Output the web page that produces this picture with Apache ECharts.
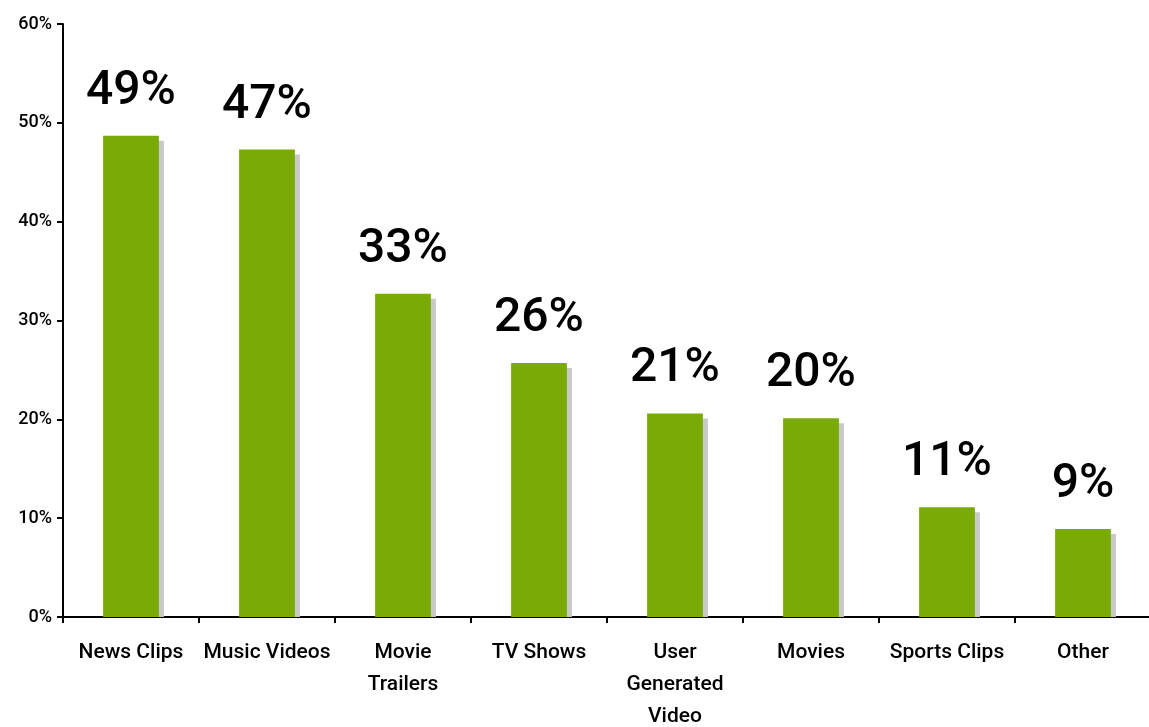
<!DOCTYPE html>
<html>
<head>
<meta charset="utf-8">
<script src="https://cdn.jsdelivr.net/npm/echarts@6/dist/echarts.min.js"></script>
<style>html,body{margin:0;padding:0;background:#fff}#c{width:1149px;height:727px}</style>
</head>
<body>
<div id="c"></div>
<script>
const categories = ['News Clips', 'Music Videos', 'Movie\nTrailers', 'TV Shows', 'User\nGenerated\nVideo', 'Movies', 'Sports Clips', 'Other'];
const values = [48.7, 47.3, 32.7, 25.7, 20.6, 20.1, 11.1, 8.9];
const valueLabels = ['49%', '47%', '33%', '26%', '21%', '20%', '11%', '9%'];
const yTicks = [0, 10, 20, 30, 40, 50, 60];

const FONT = 'Roboto, "Liberation Sans", sans-serif';
const BAR_RATIO = 0.41;
const chart = echarts.init(document.getElementById('c'), null, {renderer: 'canvas'});
chart.setOption({
  animation: false,
  backgroundColor: '#fff',
  grid: {left: 63, right: -2, top: 24, bottom: 110, containLabel: false, outerBoundsMode: 'none'},
  xAxis: {
    type: 'category',
    data: categories,
    boundaryGap: true,
    axisLine: {lineStyle: {color: '#000', width: 2}},
    axisTick: {show: true, length: 6, lineStyle: {color: '#000', width: 2}},
    axisLabel: {color: '#000', fontSize: 21, fontWeight: 500, fontFamily: FONT, lineHeight: 32, margin: 20, interval: 0}
  },
  yAxis: {
    type: 'value',
    min: 0, max: 60, interval: 10,
    axisLine: {show: true, lineStyle: {color: '#000', width: 2}},
    axisTick: {show: true, length: 6, lineStyle: {color: '#000', width: 2}},
    splitLine: {show: false},
    axisLabel: {color: '#000', fontSize: 18, fontWeight: 500, fontFamily: FONT, margin: 11,
      formatter: v => yTicks.includes(v) ? v + '%' : ''}
  },
  series: [
    {
      type: 'custom',
      z: 1,
      data: values.map((v, i) => [i, v]),
      renderItem: function (params, api) {
        const top = api.coord([api.value(0), api.value(1)]);
        const base = api.coord([api.value(0), 0]);
        const bw = api.size([1, 0])[0] * BAR_RATIO;
        return {
          type: 'rect',
          shape: {x: top[0] - bw / 2 + 5, y: top[1] + 5, width: bw, height: base[1] - top[1] - 5},
          style: {fill: '#c8c8c8'}
        };
      }
    },
    {
      type: 'bar',
      z: 2,
      data: values,
      barWidth: (BAR_RATIO * 100) + '%',
      itemStyle: {color: '#79aa06'},
      label: {
        show: true, position: 'top', distance: 20,
        color: '#000', fontSize: 48, fontWeight: 500, fontFamily: FONT,
        formatter: p => valueLabels[p.dataIndex]
      }
    }
  ]
});
</script>
</body>
</html>
